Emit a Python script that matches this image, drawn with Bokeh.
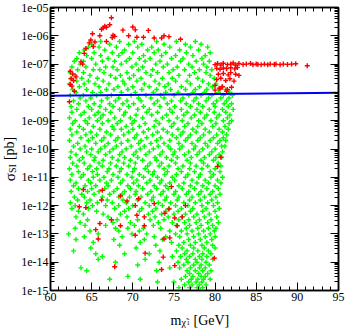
import math
from bokeh.plotting import figure
from bokeh.models import Range1d, FixedTicker, CustomJSTickFormatter, LinearAxis, LogAxis
from bokeh.layouts import row, column
from bokeh.core.properties import value
from bokeh.embed import file_html
from bokeh.resources import INLINE

# ---------------- data (mass in GeV, log10 of sigma_SI in pb) ----------------
# green points: rows of (log10 sigma, [masses])
green_e6 = [
    (-6.2, [66.1, 68.4, 70.2, 72.9, 75.3, 77.6]),
    (-6.3, [65.0, 67.2, 69.5, 71.1, 73.8, 76.4, 78.3]),
    (-6.4, [64.6, 65.9, 68.0, 70.6, 72.3, 74.5, 77.0, 79.1]),
    (-6.5, [64.1, 66.6, 69.0, 71.8, 73.1, 75.7, 78.0]),
    (-6.6, [63.5, 65.3, 67.5, 68.7, 70.0, 72.6, 74.0, 76.5, 79.4]),
    (-6.7, [64.4, 66.1, 68.3, 71.3, 73.5, 75.2, 77.3, 78.8]),
    (-6.8, [63.2, 65.0, 67.0, 69.6, 70.8, 72.1, 74.7, 76.1, 78.4]),
    (-6.9, [62.9, 64.0, 66.3, 67.8, 69.2, 71.5, 73.3, 75.8, 77.7, 79.3]),
]
green_e7 = [
    (-7.0, [63.6, 65.5, 68.6, 70.4, 72.8, 74.2, 76.8, 78.6]),
    (-7.1, [62.6, 64.3, 66.7, 67.6, 69.9, 71.2, 73.7, 75.4, 77.2, 79.0]),
    (-7.2, [63.3, 65.2, 66.0, 68.1, 70.7, 72.4, 74.9, 76.3, 78.1, 79.6]),
    (-7.3, [62.4, 64.0, 66.5, 69.3, 71.6, 73.0, 74.4, 77.5, 78.9]),
    (-7.4, [63.0, 64.8, 67.3, 68.5, 70.1, 72.2, 75.6, 76.9, 79.4]),
    (-7.5, [62.5, 63.8, 65.7, 67.9, 69.6, 71.0, 73.6, 74.8, 77.9, 79.9]),
    (-7.6, [63.2, 64.6, 66.4, 68.8, 70.5, 72.7, 75.2, 76.6, 78.5]),
    (-7.7, [62.3, 64.1, 65.4, 67.1, 69.0, 71.4, 73.2, 74.3, 77.0, 79.2, 80.1]),
    (-7.8, [63.5, 65.9, 68.2, 70.0, 72.0, 73.9, 75.9, 78.1, 79.7, 80.8]),
    (-7.9, [62.7, 64.4, 66.8, 67.7, 69.4, 71.1, 72.9, 74.6, 76.4, 77.6, 79.0, 81.3]),
]
green_e8 = [
    (-8.0, [63.1, 65.1, 66.1, 68.6, 70.3, 72.5, 74.0, 75.5, 77.3, 78.7, 80.4, 81.8]),
    (-8.1, [62.4, 64.0, 65.6, 67.4, 69.8, 71.6, 73.4, 75.0, 76.8, 78.3, 79.6, 81.0, 82.1]),
    (-8.2, [63.6, 64.9, 66.9, 68.3, 70.7, 72.2, 73.8, 76.1, 77.7, 79.2, 80.7, 81.7]),
    (-8.3, [62.8, 64.3, 66.2, 67.9, 69.3, 71.0, 73.0, 74.7, 75.8, 77.4, 78.9, 80.2, 81.4]),
    (-8.4, [63.4, 65.3, 67.2, 68.8, 70.1, 72.6, 74.2, 76.5, 78.0, 79.8, 81.1, 82.0]),
    (-8.5, [62.5, 64.6, 66.0, 67.6, 69.5, 71.3, 73.3, 75.1, 77.0, 78.5, 80.0, 81.6]),
    (-8.6, [63.2, 65.0, 66.7, 68.4, 70.6, 72.0, 74.5, 75.9, 77.8, 79.3, 80.9, 82.2]),
    (-8.7, [62.6, 64.1, 65.8, 67.3, 69.1, 71.7, 73.0, 74.8, 76.6, 78.2, 79.9, 81.3]),
    (-8.8, [63.7, 65.4, 66.4, 68.9, 70.4, 72.3, 74.1, 76.2, 77.5, 79.0, 80.5, 81.8]),
    (-8.9, [62.3, 64.7, 66.1, 67.8, 69.7, 71.2, 73.6, 75.4, 77.1, 78.7, 80.2, 81.5]),
]
green_e9 = [
    (-9.0, [63.0, 64.2, 65.7, 67.0, 68.5, 70.2, 72.8, 74.4, 76.0, 78.0, 79.5, 81.0, 82.0]),
    (-9.1, [62.7, 64.5, 66.3, 68.1, 69.9, 71.5, 73.2, 75.0, 76.7, 78.4, 80.1, 81.7]),
    (-9.2, [63.5, 65.2, 67.5, 69.2, 70.8, 72.6, 74.7, 76.3, 77.9, 79.7, 81.2]),
    (-9.3, [62.4, 64.0, 66.0, 67.7, 68.6, 70.0, 71.9, 73.7, 75.5, 77.3, 78.8, 80.5, 81.6]),
    (-9.4, [63.2, 64.9, 66.8, 69.5, 71.3, 73.0, 74.2, 76.1, 77.7, 79.3, 80.9]),
    (-9.5, [62.6, 64.3, 65.6, 67.3, 68.9, 70.5, 72.4, 74.8, 75.8, 77.0, 78.6, 80.2, 81.4]),
    (-9.6, [63.7, 65.1, 66.5, 68.2, 70.2, 71.7, 73.4, 75.3, 76.7, 78.2, 79.8, 81.0]),
    (-9.7, [62.3, 64.6, 66.2, 67.9, 69.4, 71.0, 72.9, 74.5, 76.4, 77.9, 79.4, 80.6, 81.3]),
    (-9.8, [63.3, 65.5, 67.0, 68.6, 70.7, 72.2, 73.8, 75.6, 77.2, 78.8, 80.3]),
    (-9.9, [62.8, 64.2, 66.6, 68.0, 69.8, 71.4, 73.1, 74.3, 76.0, 77.6, 79.1, 80.8, 81.2]),
]
green_e10 = [
    (-10.0, [63.6, 65.0, 66.1, 67.6, 69.2, 70.9, 72.5, 74.6, 75.7, 77.4, 78.5, 80.0]),
    (-10.1, [62.5, 64.4, 65.8, 67.2, 68.7, 70.4, 72.0, 73.6, 75.1, 76.8, 78.1, 79.6, 80.9]),
    (-10.2, [63.1, 64.9, 66.7, 68.4, 70.1, 71.6, 73.3, 74.9, 76.3, 77.8, 79.3, 80.5]),
    (-10.3, [62.4, 63.9, 65.4, 67.5, 69.0, 70.6, 72.7, 74.1, 75.4, 77.1, 78.7, 80.1, 80.8]),
    (-10.4, [63.5, 65.3, 66.4, 68.2, 69.7, 71.2, 72.9, 74.7, 76.6, 78.3, 79.8]),
    (-10.5, [62.7, 64.1, 65.9, 67.3, 68.9, 70.3, 72.1, 73.5, 75.2, 77.0, 78.6, 80.4]),
    (-10.6, [63.2, 64.8, 66.3, 68.0, 69.5, 71.8, 73.2, 74.4, 76.1, 77.7, 79.1, 80.7]),
    (-10.7, [62.3, 64.5, 65.6, 67.1, 68.6, 70.2, 71.5, 73.8, 75.5, 76.9, 78.4, 80.0]),
    (-10.8, [63.4, 65.1, 66.9, 68.4, 70.0, 71.9, 72.6, 74.2, 75.9, 77.5, 79.4, 80.6]),
    (-10.9, [62.6, 64.0, 65.7, 67.6, 69.3, 70.8, 72.4, 73.9, 75.3, 76.7, 78.2, 79.8]),
]
green_e11 = [
    (-11.0, [63.7, 65.2, 66.5, 68.2, 69.9, 71.3, 73.0, 74.8, 76.4, 78.0, 79.5, 80.9]),
    (-11.1, [62.4, 64.6, 66.0, 67.4, 68.8, 70.5, 72.1, 73.5, 75.1, 77.2, 78.8, 80.3]),
    (-11.2, [63.1, 64.9, 66.8, 68.5, 70.1, 71.7, 73.3, 74.5, 76.2, 77.8, 79.2, 80.7]),
    (-11.3, [62.8, 64.2, 65.5, 67.0, 69.4, 70.7, 72.6, 74.0, 75.6, 77.0, 78.5, 80.0]),
    (-11.4, [63.4, 65.0, 66.6, 68.1, 69.7, 71.2, 72.9, 74.3, 76.0, 77.5, 79.0, 80.4]),
    (-11.5, [62.5, 64.5, 65.9, 67.7, 69.0, 70.4, 72.2, 73.7, 75.2, 76.8, 78.3, 79.7]),
    (-11.6, [63.8, 65.3, 67.2, 68.7, 70.3, 71.8, 73.4, 75.0, 76.5, 78.0, 79.4, 80.6]),
    (-11.7, [62.9, 64.1, 66.3, 68.3, 69.6, 71.0, 72.5, 74.1, 75.6, 77.2, 78.7, 80.1]),
    (-11.8, [63.3, 64.8, 66.9, 68.8, 70.6, 72.3, 73.9, 75.4, 76.9, 78.2, 79.6]),
    (-11.9, [62.4, 64.4, 65.7, 67.5, 69.2, 71.5, 73.1, 74.6, 76.2, 77.6, 79.1, 80.3]),
]
green_e12 = [
    (-12.0, [63.0, 65.1, 66.7, 68.3, 70.0, 72.0, 73.6, 75.2, 76.7, 78.4, 79.8]),
    (-12.1, [62.6, 64.6, 67.8, 69.5, 71.1, 72.8, 74.4, 75.9, 77.3, 78.9, 80.5]),
    (-12.2, [63.4, 65.6, 69.0, 70.8, 72.4, 74.0, 75.5, 77.0, 78.5, 80.0]),
    (-12.3, [64.0, 66.4, 68.5, 71.9, 73.5, 75.0, 76.4, 77.8, 79.3]),
    (-12.4, [63.1, 67.0, 69.3, 72.7, 74.3, 76.0, 77.4, 78.7, 80.2]),
    (-12.5, [64.5, 68.1, 70.6, 72.1, 73.8, 75.6, 76.8, 78.1, 79.5]),
    (-12.6, [63.6, 67.6, 69.7, 73.1, 74.8, 76.3, 77.7, 79.1, 80.4]),
    (-12.7, [64.2, 66.7, 70.2, 72.5, 75.3, 76.9, 78.3, 79.7]),
    (-12.8, [63.0, 67.9, 69.4, 71.3, 73.4, 76.5, 77.9, 79.2, 80.1]),
    (-12.9, [64.8, 68.3, 70.8, 74.5, 75.9, 77.2, 78.6, 79.9]),
]
green_e13 = [
    (-13.0, [62.2, 65.8, 69.9, 71.7, 75.2, 76.6, 78.0, 79.4]),
    (-13.1, [64.1, 68.7, 72.6, 74.0, 75.7, 77.4, 78.8, 80.0]),
    (-13.2, [63.1, 67.7, 71.4, 73.6, 76.8, 78.2, 79.6]),
    (-13.3, [65.2, 70.9, 74.7, 76.2, 77.6, 79.0]),
    (-13.4, [68.4, 72.8, 75.6, 77.0, 78.4, 79.7]),
    (-13.5, [64.9, 70.4, 76.0, 77.4, 78.7, 80.0]),
    (-13.6, [62.8, 73.3, 75.3, 76.6, 77.9, 79.2]),
    (-13.7, [65.5, 69.0, 72.0, 76.3, 77.3, 78.5, 79.5]),
    (-13.8, [66.3, 74.8, 75.8, 76.9, 78.1, 79.0]),
    (-13.9, [65.8, 71.5, 76.5, 77.6, 78.4, 79.7]),
]
green_e14 = [
    (-14.0, [67.9, 73.2, 75.5, 76.7, 77.8, 78.9]),
    (-14.1, [70.6, 76.2, 77.4, 78.3, 79.3]),
    (-14.2, [63.7, 74.5, 75.7, 77.0, 78.1, 78.8]),
    (-14.3, [64.4, 72.9, 76.6, 77.6, 78.5, 79.5]),
    (-14.4, [76.9, 78.0, 79.1]),
    (-14.5, [69.4, 76.4, 77.3, 78.3, 78.8]),
    (-14.6, [67.2, 70.9, 75.9, 77.1, 77.9, 78.6, 79.4]),
    (-14.7, [73.0, 75.0, 76.8, 77.7, 78.4]),
    (-14.8, [76.3, 77.2, 78.1, 78.9]),
    (-14.9, [75.6, 76.9, 77.8, 78.5]),
    (-15.0, [78.2]),
]

# red points: (mass, log10 sigma)
red_top = [
    (67.4, -5.36), (67.2, -5.61), (66.4, -5.72), (66.8, -5.70), (66.6, -5.66),
    (66.2, -5.77), (67.6, -5.98), (67.8, -6.02), (67.5, -6.06), (65.1, -5.93),
    (66.0, -6.00), (68.8, -5.80), (70.0, -5.69), (70.3, -5.79), (71.9, -5.81),
    (69.5, -6.00), (70.5, -6.05), (71.3, -6.05), (72.6, -6.08), (73.5, -6.08),
    (74.4, -6.03), (75.8, -6.12), (73.8, -6.00), (64.9, -6.15), (64.7, -6.25),
    (64.3, -6.45), (64.1, -6.62), (65.4, -6.22), (65.2, -6.38), (66.8, -6.20),
    (63.7, -6.92), (63.9, -7.00), (62.4, -7.25), (62.7, -7.35), (63.1, -7.45),
    (62.5, -7.52), (62.8, -7.58), (62.4, -7.72), (62.6, -7.78), (62.9, -7.96),
    (62.3, -8.33),
]
red_right = [
    (80.0, -7.02), (80.3, -6.98), (80.7, -7.03), (81.0, -6.97), (81.5, -7.02),
    (81.9, -7.00), (82.2, -6.96), (82.5, -7.03), (82.9, -6.98), (83.4, -7.01),
    (83.8, -7.00), (84.3, -6.98), (84.6, -7.02), (85.0, -7.00), (85.2, -7.01),
    (85.6, -7.02), (86.0, -7.00), (86.4, -7.02), (86.7, -7.00), (87.2, -7.01),
    (87.4, -7.00), (87.9, -7.02), (88.3, -7.00), (88.8, -7.01), (89.3, -7.00),
    (89.8, -6.99), (91.2, -7.06),
    (80.2, -7.15), (80.6, -7.18), (81.0, -7.14), (81.4, -7.16), (81.9, -7.13),
    (82.4, -7.17), (82.7, -7.12),
    (80.4, -7.36), (81.0, -7.33), (81.6, -7.38), (81.9, -7.30), (82.5, -7.36),
    (82.9, -7.40),
    (80.2, -7.55), (80.7, -7.50), (81.3, -7.58), (81.8, -7.52), (82.3, -7.60),
    (80.0, -7.75), (80.5, -7.85), (80.9, -7.80), (81.5, -7.90), (82.0, -7.82),
    (81.4, -7.96), (80.0, -7.92), (80.6, -7.88),
]
red_low = [
    (80.7, -10.29), (80.3, -10.62), (74.7, -11.33), (64.0, -11.43), (66.3, -11.46),
    (68.5, -11.66), (66.2, -11.80), (69.3, -11.84), (70.7, -11.76), (72.6, -11.93),
    (63.5, -12.04), (64.3, -12.07), (70.3, -12.00), (76.4, -12.00), (73.9, -12.27),
    (74.4, -12.12), (70.5, -12.34), (71.4, -12.40), (75.1, -12.44), (76.0, -12.40),
    (67.4, -12.50), (66.0, -12.63), (68.5, -12.71), (71.4, -12.71), (75.4, -12.71),
    (65.5, -12.85), (70.3, -13.05), (65.8, -13.18), (73.8, -13.18), (74.5, -13.14),
    (71.5, -13.68), (73.7, -13.82), (79.9, -13.86), (67.8, -14.16), (73.5, -14.26),
    (75.1, -14.12),
]

# exclusion limit line
limit_mass = [60, 95]
limit_sigma = [7.6e-9, 9.8e-9]

# axis ticks and labels
x_ticks = [60, 65, 70, 75, 80, 85, 90, 95]
y_tick_exps = [-15, -14, -13, -12, -11, -10, -9, -8, -7, -6, -5]
ylabel_parts = ["σ", "SI", "[pb]"]
xlabel_parts = ["m", "χ̃", "1", "[GeV]"]

# ---------------- build ----------------
gx, gy = [], []
for rows in (green_e6, green_e7, green_e8, green_e9, green_e10,
             green_e11, green_e12, green_e13, green_e14):
    for lg, ms in rows:
        for m in ms:
            gx.append(m)
            gy.append(10 ** lg)
reds = red_top + red_right + red_low
rx = [m for m, _ in reds]
ry = [10 ** lg for _, lg in reds]

FONT = "Liberation Serif"
TOTAL_W = 346
YL_W = 18       # width of the y-label strip
MAIN_H = 306    # height of the main plot
XL_H = 22       # height of the x-label strip

p = figure(width=TOTAL_W - YL_W, height=MAIN_H, output_backend="svg", toolbar_location=None,
           x_range=Range1d(60, 95), y_range=Range1d(1e-15, 1e-5),
           y_axis_type="log", min_border_left=48 - YL_W, min_border_right=8,
           min_border_top=7, min_border_bottom=16)
p.title.visible = False
p.xgrid.visible = False
p.ygrid.visible = False
p.outline_line_color = "black"
p.outline_line_width = 1.5
p.background_fill_color = "white"
p.border_fill_color = "white"

p.scatter(gx, gy, marker="cross", size=5, line_width=1.4, color="#00ff00")
p.scatter(rx, ry, marker="cross", size=5, line_width=1.4, color="#ff0000")
p.line(limit_mass, limit_sigma, line_color="#0000ff", line_width=2)

ymajor = [10.0 ** e for e in y_tick_exps]
yminor = [k * 10.0 ** e for e in y_tick_exps[:-1] for k in range(2, 10)]
yticker = FixedTicker(ticks=ymajor, minor_ticks=yminor)
xticker = FixedTicker(ticks=x_ticks, minor_ticks=list(range(60, 96)))

fmt = CustomJSTickFormatter(code="""
const e = Math.round(Math.log10(tick));
const a = Math.abs(e);
return "1e" + (e < 0 ? "-" : "+") + (a < 10 ? "0" + a : "" + a);
""")

def style(ax, show_labels=True):
    ax.axis_line_color = "black"
    ax.axis_line_width = 1.5
    ax.major_tick_in = 8
    ax.major_tick_out = 0
    ax.minor_tick_in = 4
    ax.minor_tick_out = 0
    ax.major_tick_line_color = "black"
    ax.minor_tick_line_color = "black"
    ax.major_tick_line_width = 1
    ax.minor_tick_line_width = 1
    ax.major_label_text_font = FONT
    if show_labels:
        ax.major_label_text_color = "black"
        ax.major_label_text_font_size = "12px"
    else:
        ax.major_label_text_color = None
        ax.major_label_text_font_size = "6px"
        ax.major_label_standoff = 0

p.xaxis.ticker = xticker
p.yaxis.ticker = yticker
p.yaxis.formatter = fmt
style(p.xaxis[0])
style(p.yaxis[0])
p.xaxis.major_label_standoff = 2
p.yaxis.major_label_standoff = 2

top_ax = LinearAxis(ticker=xticker)
right_ax = LogAxis(ticker=yticker)
style(top_ax, False)
style(right_ax, False)
p.add_layout(top_ax, "above")
p.add_layout(right_ax, "right")

# ---- label strips (pixel coordinates, y upwards) ----
def strip(w, h):
    f = figure(width=w, height=h, output_backend="svg", toolbar_location=None,
               x_range=Range1d(0, w), y_range=Range1d(0, h),
               x_axis_location=None, y_axis_location=None,
               min_border=0, min_border_left=0, min_border_right=0,
               min_border_top=0, min_border_bottom=0)
    f.title.visible = False
    f.xgrid.visible = False
    f.ygrid.visible = False
    f.outline_line_color = None
    f.background_fill_color = "white"
    f.border_fill_color = "white"
    return f

def put(f, text, x, y, size, angle=0.0, baseline="alphabetic"):
    f.text(x=[x], y=[y], text=[text], text_font=value(FONT), text_font_size=size,
           text_color="black", angle=angle, text_align="left", text_baseline=baseline)

yl = strip(YL_W, MAIN_H)
up = math.pi / 2
put(yl, ylabel_parts[0], 9, MAIN_H - 188, "15px", up, "middle")
put(yl, ylabel_parts[1], 12, MAIN_H - 179, "10px", up, "middle")
put(yl, ylabel_parts[2], 9, MAIN_H - 165, "14px", up, "middle")

xl = strip(TOTAL_W, XL_H)
put(xl, xlabel_parts[0], 170, 8, "14px")
put(xl, xlabel_parts[1], 181, 6, "10px")
put(xl, xlabel_parts[2], 186, 5.5, "7px")
put(xl, xlabel_parts[3], 193, 8, "14px")

layout = column(row(yl, p, spacing=0), xl, spacing=0)
open("out.html", "w").write(file_html(layout, INLINE))
